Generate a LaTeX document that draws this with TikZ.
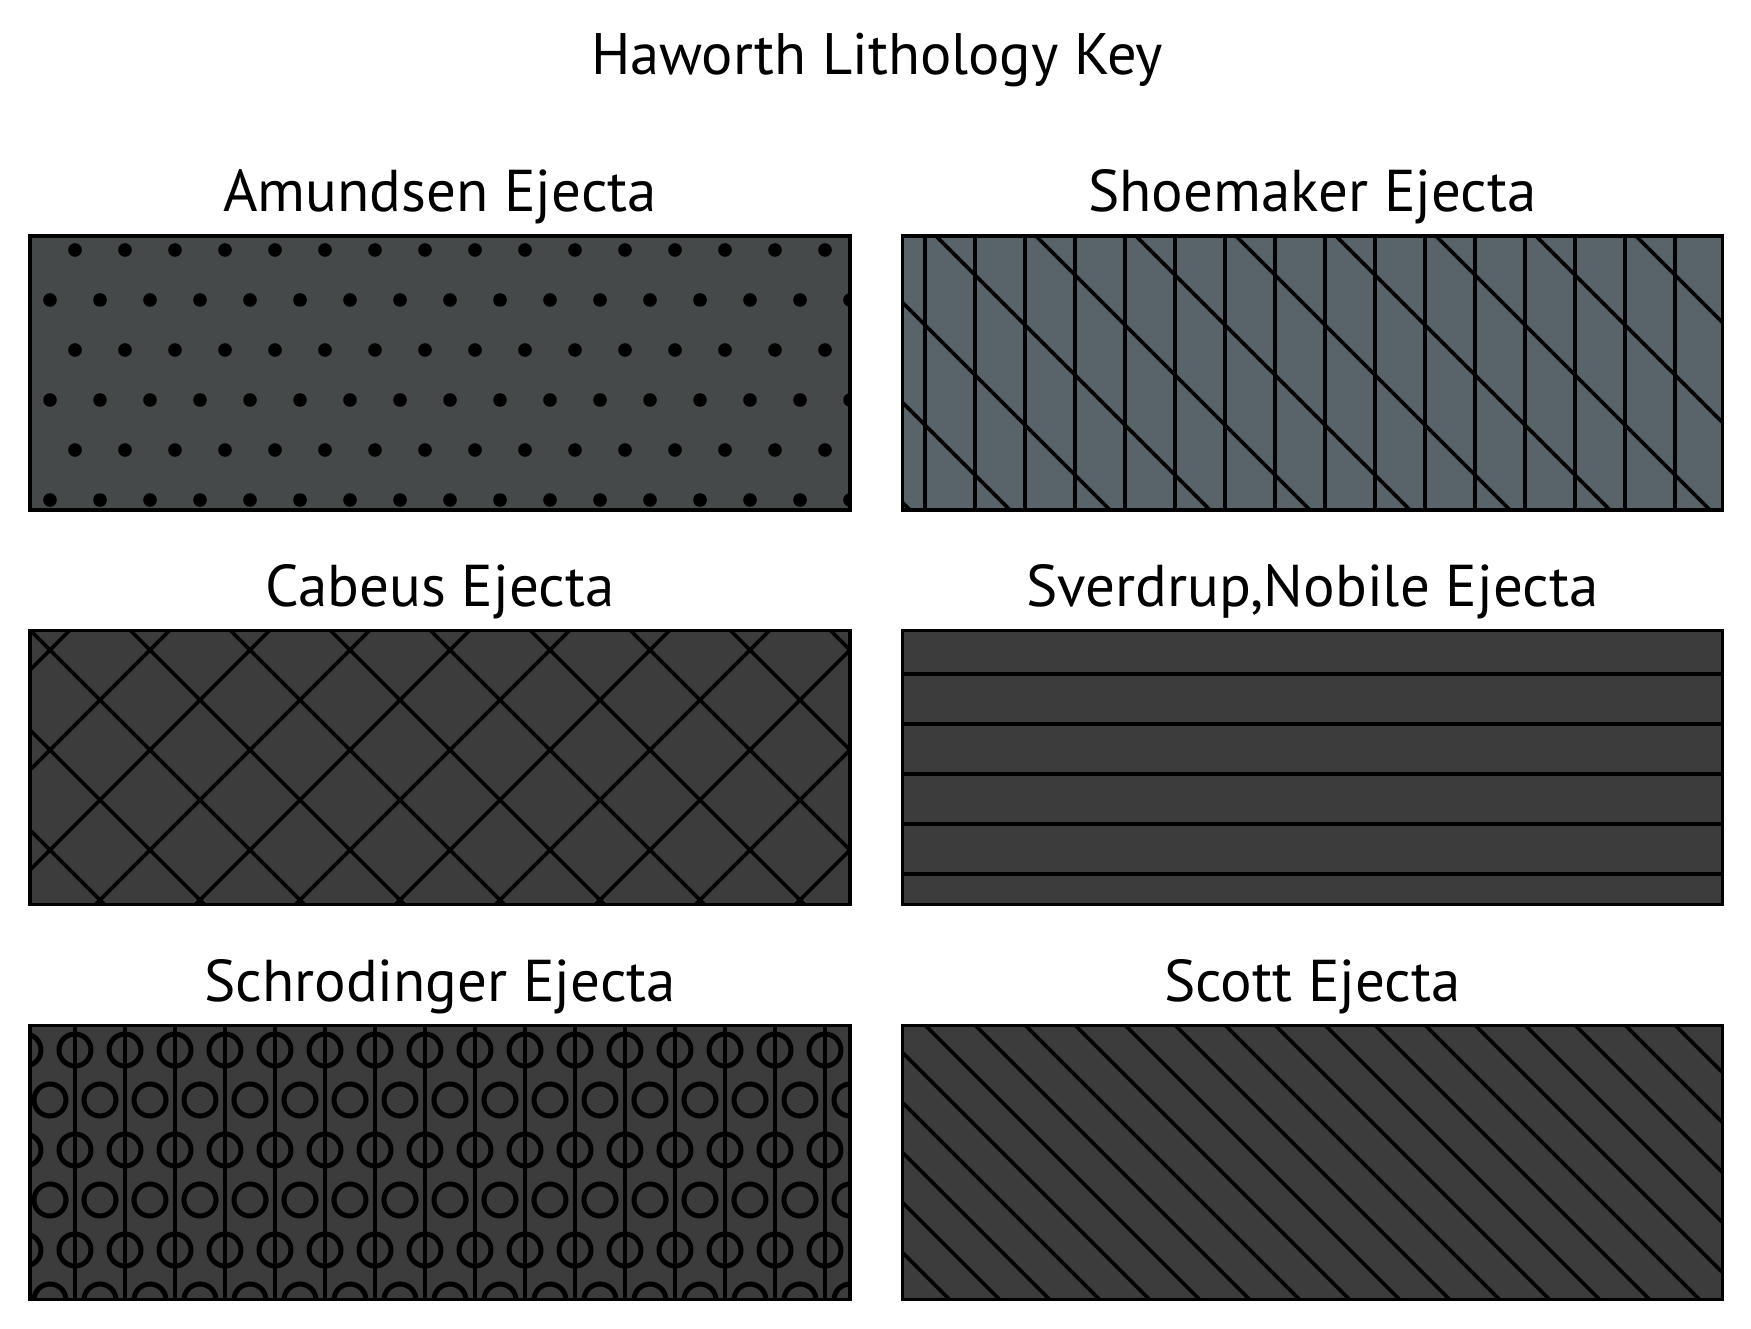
\documentclass[tikz,border=0pt]{standalone}
\usepackage{fontspec}
\setmainfont{PT Sans}
\usepackage{tikz}
\usetikzlibrary{positioning,calc}
\definecolor{color1}{HTML}{45494A}
\definecolor{color2}{HTML}{59646A}
\definecolor{color3}{HTML}{3C3C3C}
\def\amundsencolor{color1}
\def\shoemakercolor{color2}
\def\ejectacolor{color3}
\newcommand{\KeyTitleFont}{\fontsize{58.5pt}{64pt}\selectfont}
\newcommand{\KeyLabelFont}{\fontsize{59pt}{66pt}\selectfont}
\tikzset{
  key panel/.style={
    draw=none, minimum width=820pt, minimum height=274pt,
    inner sep=0, outer sep=0
  },
  key frame/.style={draw=black, line width=3.4pt},
  key label/.style={font=\KeyLabelFont, anchor=base, inner sep=0},
  key hatch/.style={draw=black, line width=3.6pt},
  key dot/.style={fill=black},
  key ring/.style={draw=black, line width=5pt},
  key stem/.style={draw=black, line width=3.2pt}
}

\begin{document}
\begin{tikzpicture}[x=1pt, y=-1pt]
    \useasboundingbox (0,0) rectangle (1751,1329);
    \node[font=\KeyTitleFont, anchor=base, inner sep=0] (key-title) at (877,75) {Haworth Lithology Key};
    % the six swatches, left column then right column
    \node[key panel, fill=\amundsencolor] (amundsen-box) at (440,373) {};
    \node[key panel, fill=\shoemakercolor] (shoemaker-box) at (1312.5,373) {};
    \node[key panel, fill=\ejectacolor] (cabeus-box) at (440,767.5) {};
    \node[key panel, fill=\ejectacolor] (sverdrup-box) at (1312.5,767.5) {};
    \node[key panel, fill=\ejectacolor] (schrodinger-box) at (440,1162.5) {};
    \node[key panel, fill=\ejectacolor] (scott-box) at (1312.5,1162.5) {};
    \foreach \panel/\paneltext in {amundsen/Amundsen Ejecta, shoemaker/Shoemaker Ejecta,
        cabeus/Cabeus Ejecta, sverdrup/{Sverdrup,Nobile Ejecta},
        schrodinger/Schrodinger Ejecta, scott/Scott Ejecta} {
        \node[key label] (\panel-label) at ([yshift=24pt]\panel-box.north) {\paneltext};
    }
    % Amundsen: staggered dots
    \begin{scope}
        \clip (amundsen-box.south west) rectangle (amundsen-box.north east);
        \foreach \row in {0,1,2} {
            \foreach \col in {0,...,15}
                \fill[key dot] (75+50*\col,250+100*\row) circle[radius=6.8pt];
            \foreach \col in {0,...,16}
                \fill[key dot] (50+50*\col,300+100*\row) circle[radius=6.8pt];
        }
    \end{scope}
    % Shoemaker: verticals crossed by diagonals
    \begin{scope}
        \clip (shoemaker-box.south west) rectangle (shoemaker-box.north east);
        \foreach \col in {0,...,15}
            \draw[key hatch] (925+50*\col,220) -- (925+50*\col,520);
        \foreach \c in {-1500,-1400,...,-400}
            \draw[key hatch] (890,890+\c) -- (1740,1740+\c);
    \end{scope}
    % Cabeus: cross hatch
    \begin{scope}
        \clip (cabeus-box.south west) rectangle (cabeus-box.north east);
        \foreach \c in {-200,-100,...,800}
            \draw[key hatch] (20,20+\c) -- (860,860+\c);
        \foreach \c in {700,800,...,1700}
            \draw[key hatch] (20,\c-20) -- (860,\c-860);
    \end{scope}
    % Sverdrup, Nobile: horizontal bands
    \begin{scope}
        \clip (sverdrup-box.south west) rectangle (sverdrup-box.north east);
        \foreach \y in {674,724,...,874}
            \draw[key hatch] (890,\y) -- (1740,\y);
    \end{scope}
    % Schrodinger: rings on stems
    \begin{scope}
        \clip (schrodinger-box.south west) rectangle (schrodinger-box.north east);
        \foreach \col in {0,...,15}
            \draw[key stem] (75+50*\col,1010) -- (75+50*\col,1310);
        \foreach \row in {0,1,2} {
            \foreach \col in {-1,...,15}
                \draw[key ring] (75+50*\col,1050+100*\row) circle[radius=16pt];
            \foreach \col in {0,...,16}
                \draw[key ring] (50+50*\col,1100+100*\row) circle[radius=16pt];
        }
    \end{scope}
    % Scott: single diagonal hatch
    \begin{scope}
        \clip (scott-box.south west) rectangle (scott-box.north east);
        \foreach \c in {-700,-650,...,400}
            \draw[key hatch] (890,890+\c) -- (1740,1740+\c);
    \end{scope}
    \foreach \panel in {amundsen,shoemaker,cabeus,sverdrup,schrodinger,scott}
        \draw[key frame] (\panel-box.south west) rectangle (\panel-box.north east);
\end{tikzpicture}
\end{document}
